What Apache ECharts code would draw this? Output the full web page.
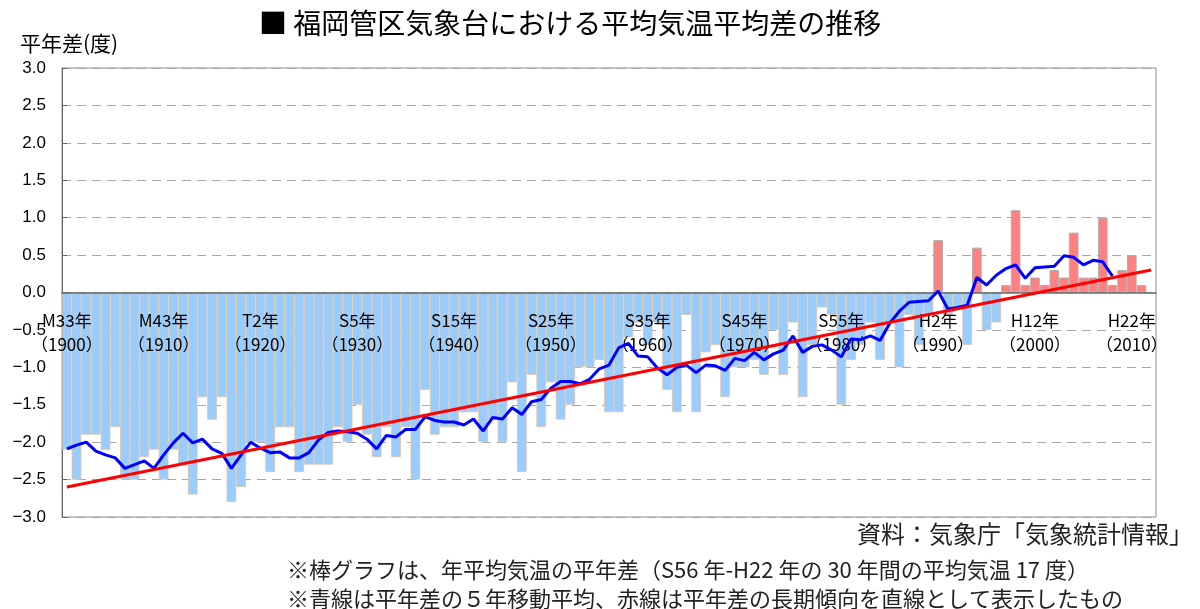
<!DOCTYPE html>
<html>
<head>
<meta charset="utf-8">
<script src="https://cdn.jsdelivr.net/npm/echarts@6/dist/echarts.min.js"></script>
<style>
  html, body { margin: 0; padding: 0; background: #fff; }
  #main { width: 1200px; height: 609px; }
</style>
</head>
<body>
<div id="main"></div>
<script>
// 福岡管区気象台 年平均気温の平年差 (1900-2011)

const firstYear = 1900;
const lastYear = 2012; // 軸は2012年まで（棒は2011年まで）
const years = [];
for (let y = firstYear; y <= lastYear; y++) years.push(String(y));

const eraLabels = ['M33年', 'M43年', 'T2年', 'S5年', 'S15年', 'S25年',
  'S35年', 'S45年', 'S55年', 'H2年', 'H12年', 'H22年'];

// 棒グラフ：年平均気温の平年差（度）
const anomaly = [
  -2.1, -2.5, -1.9, -1.9, -2.1, -1.8, -2.5, -2.5, -2.2, -2.1,
  -2.5, -2.1, -2.3, -2.7, -1.4, -1.7, -1.4, -2.8, -2.6, -2.0,
  -2.0, -2.4, -1.8, -1.8, -2.4, -2.3, -2.3, -2.3, -1.8, -2.0,
  -1.5, -1.9, -2.2, -1.8, -2.2, -1.8, -2.5, -1.3, -1.9, -1.8,
  -1.8, -1.6, -1.6, -2.0, -1.7, -2.0, -1.2, -2.4, -1.1, -1.8,
  -1.2, -1.7, -1.5, -1.0, -1.0, -0.9, -1.6, -1.6, -0.6, -0.4,
  -0.7, -0.4, -1.3, -1.6, -0.3, -1.6, -0.8, -0.7, -1.4, -1.0,
  -1.0, -0.9, -1.1, -0.5, -1.1, -0.4, -1.4, -0.7, -0.2, -0.3,
  -1.5, -0.9, -0.7, -0.4, -0.9, -0.4, -1.0, -0.3, -0.7, -0.3,
  0.7, -0.3, -0.2, -0.7, 0.6, -0.5, -0.4, 0.1, 1.1, 0.1,
  0.2, 0.1, 0.3, 0.2, 0.8, 0.2, 0.2, 1.0, 0.1, 0.3,
  0.5, 0.1
];

// 青線：5年移動平均
const movingAvg = [
  -2.09, -2.04, -2.00, -2.12, -2.17, -2.21, -2.35, -2.30, -2.25, -2.35,
  -2.17, -2.01, -1.88, -2.01, -1.96, -2.09, -2.15, -2.35, -2.17, -2.00,
  -2.08, -2.14, -2.13, -2.21, -2.21, -2.14, -1.97, -1.87, -1.85, -1.86,
  -1.88, -1.96, -2.09, -1.91, -1.93, -1.83, -1.83, -1.66, -1.71, -1.73,
  -1.73, -1.77, -1.69, -1.85, -1.67, -1.69, -1.54, -1.63, -1.46, -1.43,
  -1.28, -1.19, -1.19, -1.22, -1.16, -1.02, -0.97, -0.74, -0.68, -0.85,
  -0.86, -1.01, -1.10, -1.00, -0.97, -1.07, -0.97, -0.98, -1.04, -0.88,
  -0.91, -0.80, -0.90, -0.82, -0.77, -0.58, -0.80, -0.72, -0.70, -0.77,
  -0.86, -0.62, -0.63, -0.58, -0.64, -0.41, -0.25, -0.13, -0.12, -0.11,
  0.02, -0.22, -0.20, -0.17, 0.20, 0.10, 0.23, 0.32, 0.37, 0.19,
  0.33, 0.34, 0.35, 0.49, 0.47, 0.37, 0.43, 0.41, 0.22
];

// 赤線：長期傾向（始点・終点）
const trendYears = ['1900', '2012'];
const trendValues = [-2.60, 0.30];

const negBars = anomaly.map(v => (v < 0 ? v : null));
const posBars = anomaly.map(v => (v >= 0 ? v : null));

const jpFont = '"Noto Sans CJK JP", "Noto Sans", sans-serif';

// グリッド：上68, 下517 → 0度の位置は292.5
const gridTop = 68, gridBottom = 92, chartH = 609;
const zeroOffset = -((chartH - gridBottom) - (gridTop + (chartH - gridBottom - gridTop) / 2));

const chart = echarts.init(document.getElementById('main'), null, { renderer: 'canvas' });
chart.setOption({
  animation: false,
  backgroundColor: '#fff',
  textStyle: { fontFamily: jpFont },
  title: [
    {
      text: '■ 福岡管区気象台における平均気温平均差の推移',
      left: 254, top: 4,
      textStyle: { fontSize: 28, fontWeight: 'normal', color: '#000', fontFamily: jpFont }
    },
    {
      text: '資料：気象庁「気象統計情報」',
      right: 2, top: 517,
      textStyle: { fontSize: 24, fontWeight: 'normal', color: '#222', fontFamily: jpFont }
    },
    {
      text: '※棒グラフは、年平均気温の平年差（S56 年-H22 年の 30 年間の平均気温 17 度）',
      left: 282, top: 554,
      textStyle: { fontSize: 22, fontWeight: 'normal', color: '#222', fontFamily: jpFont }
    },
    {
      text: '※青線は平年差の５年移動平均、赤線は平年差の長期傾向を直線として表示したもの',
      left: 282, top: 583,
      textStyle: { fontSize: 22, fontWeight: 'normal', color: '#222', fontFamily: jpFont }
    }
  ],
  grid: {
    left: 62, top: gridTop, right: 44, bottom: gridBottom,
    show: true, borderColor: '#8c8c8c', borderWidth: 1, backgroundColor: '#fff'
  },
  xAxis: {
    type: 'category',
    data: years,
    boundaryGap: true,
    position: 'bottom',
    offset: zeroOffset,
    z: 3,
    axisLine: { show: true, onZero: false, lineStyle: { color: '#666', width: 1.5 } },
    axisTick: { inside: true, length: 6, interval: 9, lineStyle: { color: '#333' } },
    axisLabel: {
      interval: 9,
      margin: 16,
      fontSize: 17,
      lineHeight: 24,
      color: '#000',
      fontFamily: jpFont,
      formatter: (value, index) => eraLabels[index / 10] + '\n（' + value + '）'
    },
    splitLine: { show: false }
  },
  yAxis: {
    type: 'value',
    min: -3, max: 3, interval: 0.5,
    name: '平年差(度)',
    nameLocation: 'end',
    nameGap: 14,
    nameTextStyle: { fontSize: 21, color: '#000', align: 'left', padding: [0, 0, 0, -42] },
    axisLine: { show: true, lineStyle: { color: '#666' } },
    axisTick: { show: true, inside: true, length: 5, lineStyle: { color: '#666' } },
    axisLabel: {
      fontSize: 17, color: '#000', margin: 16, fontFamily: '"Liberation Sans", Arial, sans-serif',
      formatter: v => v.toFixed(1).replace('-', '−')
    },
    splitLine: { show: true, lineStyle: { color: '#a6a6a6', type: [9, 6], width: 1 } }
  },
  series: [
    {
      name: '平年差（負）',
      type: 'bar',
      data: negBars,
      barCategoryGap: 0,
      barGap: '-100%',
      itemStyle: { color: '#99CCFF', borderColor: '#E2C4A0', borderWidth: 0.8 },
      z: 2
    },
    {
      name: '平年差（正）',
      type: 'bar',
      data: posBars,
      barCategoryGap: 0,
      barGap: '-100%',
      itemStyle: { color: '#FF8080', borderColor: '#B0B0B0', borderWidth: 1 },
      z: 2
    },
    {
      name: '5年移動平均',
      type: 'line',
      data: movingAvg,
      showSymbol: false,
      symbol: 'none',
      lineStyle: { color: '#0000FF', width: 3 },
      z: 4
    },
    {
      name: '長期傾向',
      type: 'line',
      data: trendYears.map((y, i) => [y, trendValues[i]]),
      showSymbol: false,
      symbol: 'none',
      lineStyle: { color: '#FF0000', width: 3 },
      z: 5
    }
  ]
});
</script>
</body>
</html>
